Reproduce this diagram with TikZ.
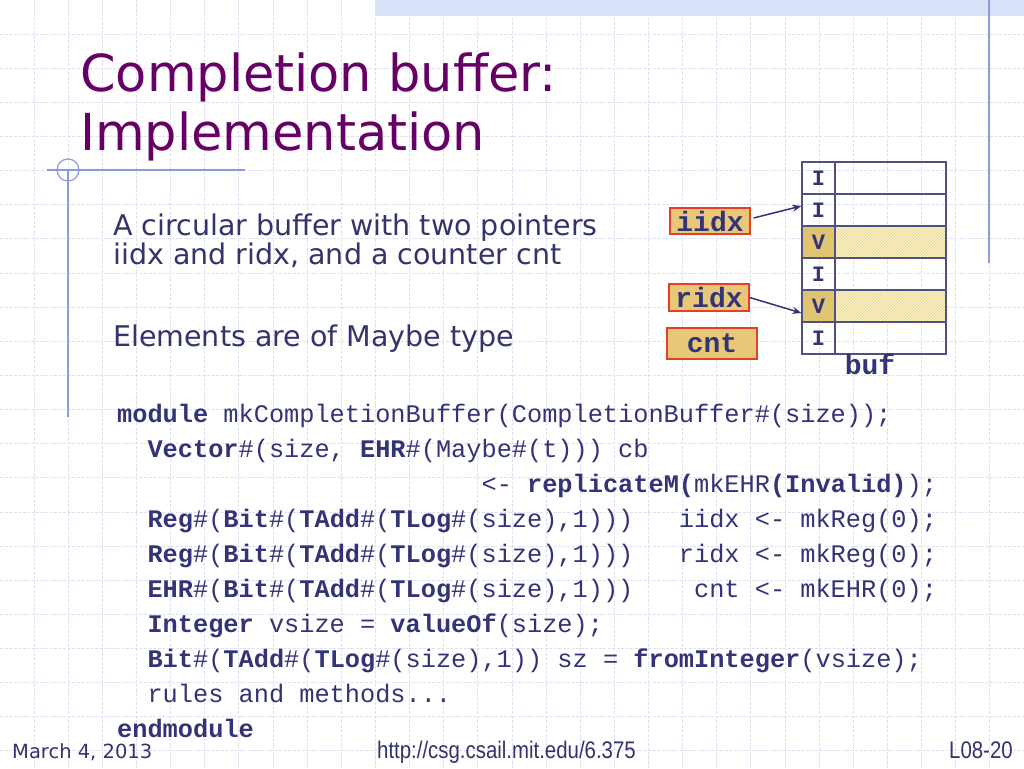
\documentclass[tikz,border=0pt]{standalone}
\usepackage{fontspec}
\setmainfont{DejaVu Sans}
\setmonofont{Liberation Mono}
\newfontfamily\urlfont[FakeStretch=0.85]{Liberation Sans}
\usetikzlibrary{arrows.meta,patterns}
\definecolor{titlec}{RGB}{102,0,102}
\definecolor{navy}{RGB}{51,51,110}
\definecolor{codec}{RGB}{51,51,120}
\definecolor{gridc}{RGB}{222,224,244}
\definecolor{bandc}{RGB}{216,226,248}
\definecolor{decoc}{RGB}{140,155,225}
\definecolor{boxfill}{RGB}{232,200,120}
\definecolor{boxline}{RGB}{228,64,40}
\definecolor{tablec}{RGB}{80,80,130}
\definecolor{vfill}{RGB}{224,196,112}
\definecolor{hatchbg}{RGB}{250,242,205}
\definecolor{hatchc}{RGB}{232,212,130}
\newcommand\kw[1]{\textbf{#1}}
\begin{document}
\begin{tikzpicture}[x=1pt,y=-1pt,
  gridline/.style={draw=gridc,line width=0.9pt,dash pattern=on 3pt off 1.5pt},
  deco/.style={draw=decoc,line width=1.2pt},
  titletext/.style={anchor=base west,inner sep=0,text=titlec,font=\fontsize{51}{59}\selectfont},
  bodytext/.style={anchor=base west,inner sep=0,text=navy,font=\fontsize{28.5}{29}\selectfont},
  codeline/.style={anchor=base west,inner sep=0,text=codec,font=\ttfamily\fontsize{25.3}{35}\selectfont},
  ptrbox/.style={draw=boxline,fill=boxfill,line width=1.2pt,inner sep=0,text=codec,font=\ttfamily\bfseries\fontsize{28}{28}\selectfont},
  lcell/.style={draw=tablec,line width=1.2pt,minimum width=33pt,minimum height=32pt,inner sep=0,text=codec,font=\ttfamily\bfseries\fontsize{22}{22}\selectfont},
  rcell/.style={draw=tablec,line width=1.2pt,minimum width=111pt,minimum height=32pt,inner sep=0},
  vcell/.style={lcell,fill=vfill},
  hcell/.style={rcell,preaction={fill=hatchbg},pattern=north east lines,pattern color=hatchc},
  ptrarrow/.style={draw=codec,line width=1.5pt,-{Stealth[length=9pt,width=7pt]}},
  foottext/.style={anchor=base west,inner sep=0,text=navy}
]
\useasboundingbox (0,0) rectangle (1024,768);
\fill[white] (0,0) rectangle (1024,768);
% grid background
\foreach \i in {1,...,29} \draw[gridline] ({\i*34.133},0) -- ({\i*34.133},768);
\foreach \j in {1,...,22} \draw[gridline] (0,{\j*34.133}) -- (1024,{\j*34.133});
% top band
\fill[bandc] (375,0) rectangle (1024,16);
% decorations
\draw[deco] (989,0) -- (989,263);
\draw[deco] (68,170) -- (68,417);
\draw[deco] (47,170) -- (245,170);
\draw[deco] (68,170) circle[radius=11pt];
% title
\node[titletext] (t1) at (80,91) {Completion buffer:};
\node[titletext] (t2) at (80,150) {Implementation};
% body
\node[bodytext] (b1) at (113,235) {A circular buffer with two pointers};
\node[bodytext] (b2) at (113,264) {iidx and ridx, and a counter cnt};
\node[bodytext] (b3) at (113,346) {Elements are of Maybe type};
% buffer table
\node[lcell] (c1) at (818.5,178) {I};
\node[lcell] (c2) at (818.5,210) {I};
\node[vcell] (c3) at (818.5,242) {V};
\node[lcell] (c4) at (818.5,274) {I};
\node[vcell] (c5) at (818.5,306) {V};
\node[lcell] (c6) at (818.5,338) {I};
\node[rcell] (d1) at (890.5,178) {};
\node[rcell] (d2) at (890.5,210) {};
\node[hcell] (d3) at (890.5,242) {};
\node[rcell] (d4) at (890.5,274) {};
\node[hcell] (d5) at (890.5,306) {};
\node[rcell] (d6) at (890.5,338) {};
\node[anchor=base,inner sep=0,text=codec,font=\ttfamily\bfseries\fontsize{28}{28}\selectfont] (buf) at (870,374) {buf};
% pointer boxes
\node[ptrbox,minimum width=80pt,minimum height=26pt] (iidx) at (710,221) {iidx};
\node[ptrbox,minimum width=80pt,minimum height=27pt] (ridx) at (709,297.5) {ridx};
\node[ptrbox,minimum width=90pt,minimum height=31pt] (cnt) at (712,343.5) {cnt};
\draw[ptrarrow] ([xshift=3pt,yshift=3pt]iidx.east) -- ([yshift=4pt]c2.west);
\draw[ptrarrow] (ridx.east) -- ([yshift=-7pt]c5.west);
% code
\node[codeline] (l1) at (117,422) {\kw{module} mkCompletionBuffer(CompletionBuffer\#(size));};
\node[codeline] (l2) at (117,457.05) {~~\kw{Vector}\#(size, \kw{EHR}\#(Maybe\#(t))) cb};
\node[codeline] (l3) at (117,492.1) {~~~~~~~~~~~~~~~~~~~~~~~~<- \kw{replicateM(}mkEHR\kw{(Invalid)});};
\node[codeline] (l4) at (117,527.15) {~~\kw{Reg}\#(\kw{Bit}\#(\kw{TAdd}\#(\kw{TLog}\#(size),1)))~~~iidx <- mkReg(0);};
\node[codeline] (l5) at (117,562.2) {~~\kw{Reg}\#(\kw{Bit}\#(\kw{TAdd}\#(\kw{TLog}\#(size),1)))~~~ridx <- mkReg(0);};
\node[codeline] (l6) at (117,597.25) {~~\kw{EHR}\#(\kw{Bit}\#(\kw{TAdd}\#(\kw{TLog}\#(size),1)))~~~~cnt <- mkEHR(0);};
\node[codeline] (l7) at (117,632.3) {~~\kw{Integer} vsize = \kw{valueOf}(size);};
\node[codeline] (l8) at (117,667.35) {~~\kw{Bit}\#(\kw{TAdd}\#(\kw{TLog}\#(size),1)) sz = \kw{fromInteger}(vsize);};
\node[codeline] (l9) at (117,702.4) {~~rules and methods...};
\node[codeline] (l10) at (117,737.45) {\kw{endmodule}};
% footer
\node[foottext,font=\fontsize{19.5}{20}\selectfont] (date) at (12,758) {March 4, 2013};
\node[foottext,font=\urlfont\fontsize{24}{24}\selectfont] (url) at (377,758) {http://csg.csail.mit.edu/6.375};
\node[foottext,font=\urlfont\fontsize{24}{24}\selectfont] (page) at (949,758) {L08-20};
\end{tikzpicture}
\end{document}
